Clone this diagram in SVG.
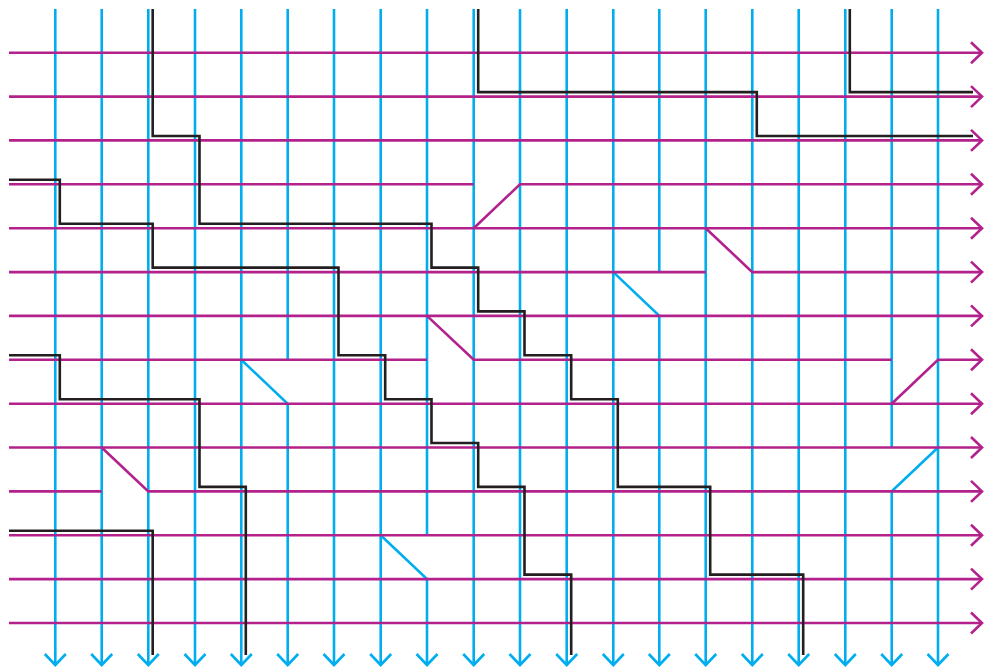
<svg xmlns="http://www.w3.org/2000/svg" width="984" height="668" viewBox="0 0 984 668">
<defs>
<style>
.b{fill:none;stroke:#00AEEF;stroke-width:2.6}
.m{fill:none;stroke:#B3218D;stroke-width:2.6}
.k{fill:none;stroke:#231F20;stroke-width:2.6;stroke-linejoin:miter}
.ba{marker-end:url(#ab)}
.ma{marker-end:url(#am)}
</style>
<marker id="ab" markerUnits="userSpaceOnUse" orient="auto" refX="0" refY="0" markerWidth="30" markerHeight="30" viewBox="-15 -15 30 30" overflow="visible">
<path d="M-11,-10.5 L0,0 L-11,10.5" fill="none" stroke="#00AEEF" stroke-width="2.6"/>
</marker>
<marker id="am" markerUnits="userSpaceOnUse" orient="auto" refX="0" refY="0" markerWidth="30" markerHeight="30" viewBox="-15 -15 30 30" overflow="visible">
<path d="M-11,-10.5 L0,0 L-11,10.5" fill="none" stroke="#B3218D" stroke-width="2.6"/>
</marker>
</defs>
<rect width="984" height="668" fill="#ffffff"/>
<g id="blue-lines">
<path class="b ba" d="M55.3,9 V665"/>
<path class="b ba" d="M101.7,9 V665"/>
<path class="b ba" d="M148.3,9 V665"/>
<path class="b ba" d="M195,9 V665"/>
<path class="b ba" d="M241.3,9 V665"/>
<path class="b" d="M287.7,9 V359.8"/>
<path class="b ba" d="M241.3,359.8 L287.7,403.7 V665"/>
<path class="b ba" d="M334,9 V665"/>
<path class="b ba" d="M380.7,9 V665"/>
<path class="b" d="M427,9 V535.3"/>
<path class="b ba" d="M380.7,535.3 L427,579.1 V665"/>
<path class="b ba" d="M473.7,9 V665"/>
<path class="b ba" d="M520,9 V665"/>
<path class="b ba" d="M566.7,9 V665"/>
<path class="b ba" d="M613.3,9 V665"/>
<path class="b" d="M659.3,9 V272.1"/>
<path class="b ba" d="M613.3,272.1 L659.3,315.9 V665"/>
<path class="b ba" d="M705.7,9 V665"/>
<path class="b ba" d="M752.3,9 V665"/>
<path class="b ba" d="M798.7,9 V665"/>
<path class="b ba" d="M845.3,9 V665"/>
<path class="b" d="M891.7,9 V447.5"/>
<path class="b ba" d="M938,447.5 L891.7,491.4 V665"/>
<path class="b ba" d="M938,9 V665"/>
</g>
<g id="magenta-lines">
<path class="m ma" d="M9,52.7 H982"/>
<path class="m ma" d="M9,96.6 H982"/>
<path class="m ma" d="M9,140.4 H982"/>
<path class="m" d="M9,184.3 H473.7"/>
<path class="m ma" d="M473.7,228.2 L520,184.3 H982"/>
<path class="m ma" d="M9,228.2 H982"/>
<path class="m" d="M9,272.1 H705.7"/>
<path class="m ma" d="M705.7,228.2 L752.3,272.1 H982"/>
<path class="m ma" d="M9,315.9 H982"/>
<path class="m" d="M9,359.8 H427"/>
<path class="m" d="M427,315.9 L473.7,359.8 H891.7"/>
<path class="m ma" d="M891.7,403.7 L938,359.8 H982"/>
<path class="m ma" d="M9,403.7 H982"/>
<path class="m ma" d="M9,447.5 H982"/>
<path class="m" d="M9,491.4 H101.7"/>
<path class="m ma" d="M101.7,447.5 L148.3,491.4 H982"/>
<path class="m ma" d="M9,535.3 H982"/>
<path class="m ma" d="M9,579.1 H982"/>
<path class="m ma" d="M9,623 H982"/>
</g>
<g id="black-paths">
<path id="path1" class="k" d="M152.7,9 V136 H199.5 V223.7 H431.5 V267.6 H478.2 V311.4 H524.5 V355.3 H571.2 V399.2 H617.8 V486.9 H710.2 V574.6 H803.2 V655"/>
<path id="path2" class="k" d="M9,179.8 H59.8 V223.7 H152.7 V267.6 H338.5 V355.3 H385.2 V399.2 H431.5 V443 H478.2 V486.9 H524.5 V574.6 H571.2 V655"/>
<path id="path3" class="k" d="M9,355.3 H59.8 V399.2 H199.5 V486.9 H245.8 V655"/>
<path id="path4" class="k" d="M9,530.8 H152.7 V655"/>
<path id="path5" class="k" d="M478.2,9 V92.1 H756.8 V136 H973"/>
<path id="path6" class="k" d="M849.8,9 V92.1 H973"/>
</g>
</svg>
